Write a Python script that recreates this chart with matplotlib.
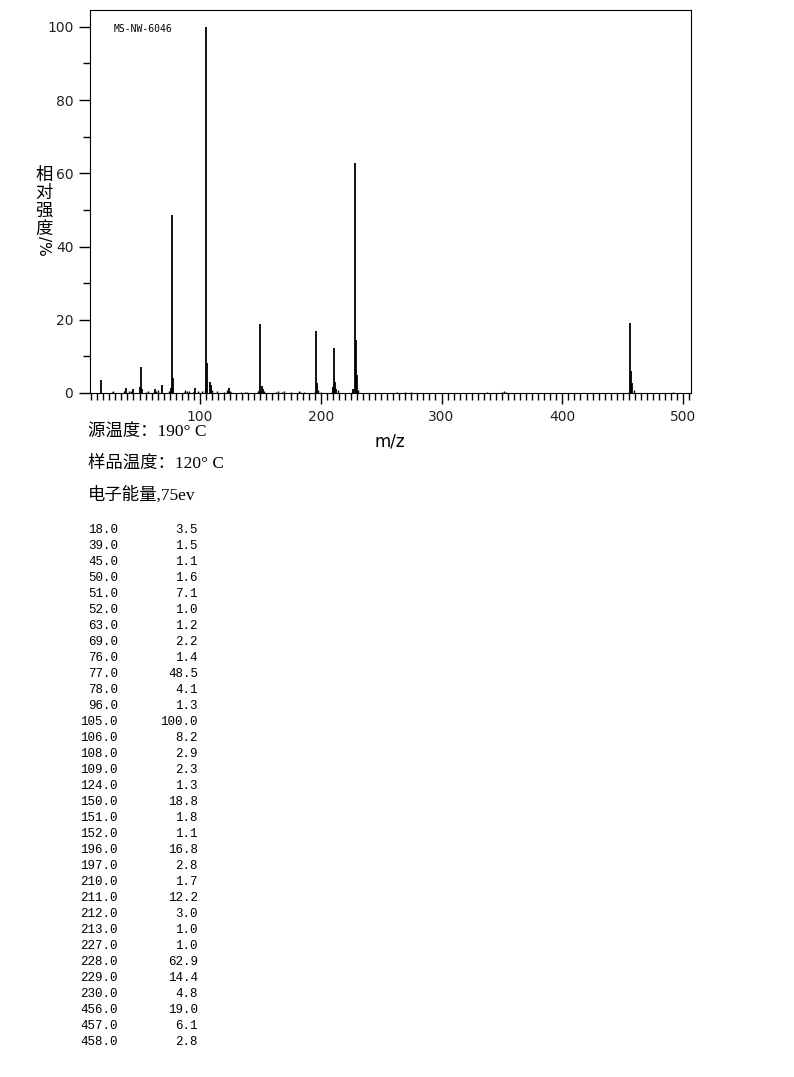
"""Mass spectrum MS-NW-6046 with peak table."""

import matplotlib
matplotlib.use("Agg")
import matplotlib.pyplot as plt
from matplotlib.ticker import MultipleLocator

# Peak table (m/z, relative intensity %)
mz = [18.0, 39.0, 45.0, 50.0, 51.0, 52.0, 63.0, 69.0, 76.0, 77.0, 78.0, 96.0,
      105.0, 106.0, 108.0, 109.0, 124.0, 150.0, 151.0, 152.0, 196.0, 197.0,
      210.0, 211.0, 212.0, 213.0, 227.0, 228.0, 229.0, 230.0, 456.0, 457.0, 458.0]
intensity = [3.5, 1.5, 1.1, 1.6, 7.1, 1.0, 1.2, 2.2, 1.4, 48.5, 4.1, 1.3,
             100.0, 8.2, 2.9, 2.3, 1.3, 18.8, 1.8, 1.1, 16.8, 2.8,
             1.7, 12.2, 3.0, 1.0, 1.0, 62.9, 14.4, 4.8, 19.0, 6.1, 2.8]

# small peaks (<1 %)
minor_mz = [27, 28, 37, 38, 41, 43, 55, 57, 62, 64, 65, 74, 75, 87, 88, 89, 91,
            94, 95, 98, 102, 104, 110, 114, 120, 122, 123, 125, 126, 134, 137,
            139, 148, 149, 153, 163, 165, 168, 170, 175, 182, 183, 186, 195, 198,
            200, 209, 214, 226, 231, 263, 270, 275, 338, 350, 352, 353, 455, 459, 492]
minor_int = [0.4, 0.6, 0.5, 0.7, 0.6, 0.5, 0.4, 0.6, 0.5, 0.6, 0.8, 0.5, 0.6, 0.4,
             0.7, 0.5, 0.6, 0.4, 0.5, 0.6, 0.5, 0.7, 0.8, 0.5, 0.4, 0.9, 0.6,
             0.5, 0.4, 0.3, 0.4, 0.3, 0.5, 0.8, 0.6, 0.3, 0.5, 0.4, 0.6, 0.3, 0.5,
             0.3, 0.4, 0.5, 0.7, 0.4, 0.6, 0.8, 0.6, 0.7, 0.3, 0.3, 0.3, 0.3, 0.4,
             0.5, 0.4, 0.6, 0.7, 0.3]

info_lines = ["源温度：190° C", "样品温度：120° C", "电子能量,75ev"]

W, H = 794, 1077
fig = plt.figure(figsize=(W / 100, H / 100), dpi=100)


def px(x, y):
    """Pixel position (from top-left) to figure fraction."""
    return x / W, 1 - y / H


# Spectrum axes
left, right, top, bottom = 90, 691, 10, 393
ax = fig.add_axes([left / W, 1 - bottom / H, (right - left) / W, (bottom - top) / H])
ax.vlines(minor_mz, 0, minor_int, color="black", linewidth=1.0)
ax.vlines(mz, 0, intensity, color="black", linewidth=1.3)
ax.set_xlim(9.0, 506.5)
ax.set_ylim(0, 104.6)

ax.xaxis.set_major_locator(MultipleLocator(100))
ax.xaxis.set_minor_locator(MultipleLocator(5))
ax.yaxis.set_major_locator(MultipleLocator(20))
ax.yaxis.set_minor_locator(MultipleLocator(10))
ax.tick_params(axis="both", which="major", direction="out", length=8, width=1,
               labelsize=10, pad=4)
ax.tick_params(axis="both", which="minor", direction="out", length=5, width=1)
for lab in ax.get_xticklabels() + ax.get_yticklabels():
    lab.set_family("DejaVu Sans")
    lab.set_color("#222222")

ax.text(0.04, 0.95, "MS-NW-6046", transform=ax.transAxes, fontsize=7,
        family="DejaVu Sans Mono", va="center", ha="left")

# y label: stacked characters
for i, ch in enumerate("相对强度"):
    fig.text(*px(44, 175 + i * 18), ch, fontsize=12.5, ha="center", va="center",
             family=["Noto Sans CJK SC", "DejaVu Sans"])
fig.text(*px(44, 246), "/%", fontsize=11, ha="center", va="center", rotation=-90,
         family="DejaVu Sans")

fig.text(*px(390, 441), "m/z", fontsize=12, ha="center", va="center",
         family="DejaVu Sans")

# run conditions
for i, line in enumerate(info_lines):
    fig.text(*px(88, 433 + i * 31), line, fontsize=12.5, ha="left", va="center",
             family=["Liberation Serif", "Noto Sans CJK SC"])

# peak table
for i, (m, v) in enumerate(zip(mz, intensity)):
    y = 530 + i * 16
    fig.text(*px(118, y), f"{m:.1f}", fontsize=9, ha="right", va="center",
             family="Liberation Mono")
    fig.text(*px(198, y), f"{v:.1f}", fontsize=9, ha="right", va="center",
             family="Liberation Mono")

fig.savefig("out.png", dpi=100)
